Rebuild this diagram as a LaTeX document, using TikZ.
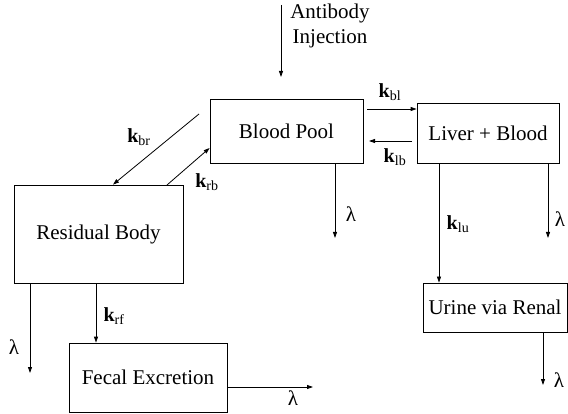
\documentclass[tikz,border=0pt]{standalone}
\usepackage{fontspec}
\setmainfont{Liberation Serif}
\usetikzlibrary{arrows.meta}
\newcommand{\rate}[1]{\textbf{k}\textsubscript{#1}}
\begin{document}
\begin{tikzpicture}[x=1pt,y=-1pt,
  box/.style={draw, line width=0.8pt, inner sep=0pt, font=\fontsize{21}{25}\selectfont},
  arr/.style={-{Triangle[length=6pt,width=4pt]}, line width=0.8pt},
  lab/.style={inner sep=0pt, font=\fontsize{21}{25}\selectfont},
  klab/.style={inner sep=0pt, font=\fontsize{20}{24}\selectfont}]
\useasboundingbox (0,0) rectangle (568,414);

% compartments
\node[box, minimum width=153pt, minimum height=64pt] (bp) at (286.5,131) {Blood Pool};
\node[box, minimum width=142pt, minimum height=60pt] (lv) at (488,133) {Liver + Blood};
\node[box, minimum width=169pt, minimum height=98pt] (rb) at (98.5,234) {Residual Body};
\node[box, minimum width=158pt, minimum height=69pt] (fe) at (148,377.5) {Fecal Excretion};
\node[box, minimum width=144pt, minimum height=49pt] (ur) at (495,307.5) {Urine via Renal};

% dose input
\node[lab, align=center] (inj) at (330,26) {Antibody\\Injection};
\coordinate (injA) at (281,5);
\coordinate (injB) at (281,77);
\draw[arr] (injA) -- (injB);

% blood <-> liver
\coordinate (blA) at (367,109);
\coordinate (lbA) at (412,141);
\draw[arr] (blA) -- (lv.west |- blA);
\draw[arr] (lbA) -- (369,141);
\node[klab] (kbl) at (390,92) {\rate{bl}};
\node[klab] (klb) at (395,157) {\rate{lb}};

% blood <-> residual body
\coordinate (brA) at (199,114);
\coordinate (rbA) at (167,185);
\draw[arr] (brA) -- (rb.north -| 113,0);
\draw[arr] (rbA) -- (bp.west |- 0,148);
\node[klab] (kbr) at (139,137) {\rate{br}};
\node[klab] (krb) at (207,182) {\rate{rb}};

% elimination from blood pool
\coordinate (bpL) at (335,238);
\draw[arr] (bp.south -| bpL) -- (bpL);
\node[lab] (lbp) at (351,214) {λ};

% liver outputs
\draw[arr] (lv.south -| 439,0) -- (ur.north -| 439,0);
\node[klab] (klu) at (458,224) {\rate{lu}};
\coordinate (lvL) at (548,238);
\draw[arr] (lv.south -| lvL) -- (lvL);
\node[lab] (llv) at (560,219) {λ};

% urine output
\coordinate (urL) at (543,385);
\draw[arr] (ur.south -| urL) -- (urL);
\node[lab] (lur) at (559,380) {λ};

% residual body outputs
\coordinate (rbL) at (30,373);
\draw[arr] (rb.south -| rbL) -- (rbL);
\node[lab] (lrb) at (14,347) {λ};
\draw[arr] (rb.south -| 96,0) -- (fe.north -| 96,0);
\node[klab] (krf) at (114,316) {\rate{rf}};

% fecal output
\coordinate (feL) at (313,387);
\draw[arr] (fe.east |- feL) -- (feL);
\node[lab] (lfe) at (293,398) {λ};
\end{tikzpicture}
\end{document}
